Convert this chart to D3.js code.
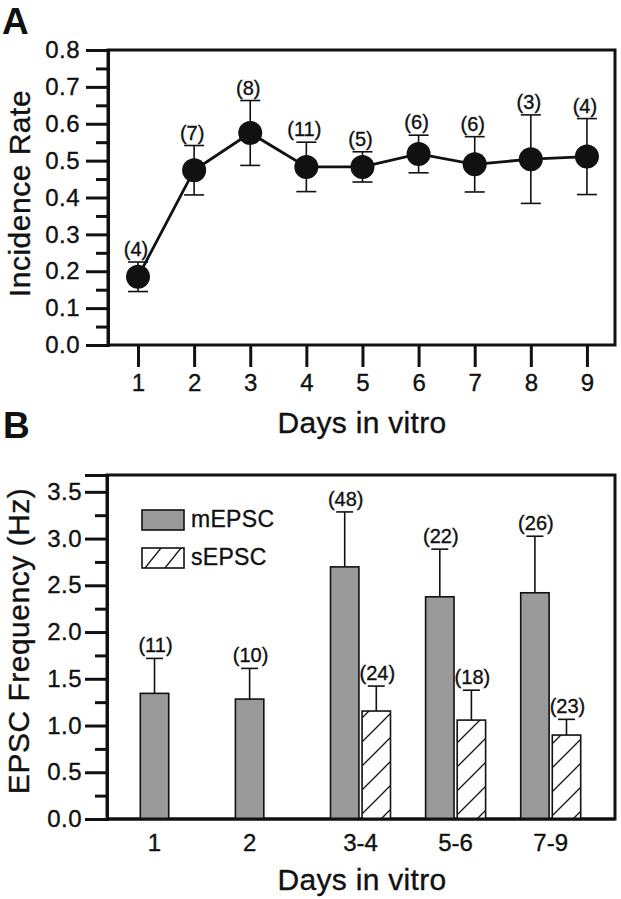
<!DOCTYPE html>
<html>
<head>
<meta charset="utf-8">
<script src="https://cdn.jsdelivr.net/npm/d3@7/dist/d3.min.js"></script>
<style>
  html, body { margin: 0; padding: 0; background: #fff; }
  svg { display: block; font-family: "Liberation Sans", Arial, Helvetica, sans-serif; }
</style>
</head>
<body>
<svg id="chart" width="621" height="899"></svg>
<script>
// ---------- Panel A data ----------
const daysA = [1, 2, 3, 4, 5, 6, 7, 8, 9];
const incidence = [0.185, 0.474, 0.575, 0.483, 0.483, 0.518, 0.490, 0.504, 0.511];
const incidenceErr = [0.040, 0.067, 0.088, 0.067, 0.041, 0.051, 0.075, 0.120, 0.103];
const nA = [4, 7, 8, 11, 5, 6, 6, 3, 4];
const yTicksA = [0.0, 0.1, 0.2, 0.3, 0.4, 0.5, 0.6, 0.7, 0.8];
const yMinorA = [0.05, 0.15, 0.25, 0.35, 0.45, 0.55, 0.65, 0.75];

// ---------- Panel B data ----------
const categoriesB = ["1", "2", "3-4", "5-6", "7-9"];
const seriesB = ["mEPSC", "sEPSC"];
const mEPSC = [1.344, 1.283, 2.697, 2.377, 2.420];
const mEPSCErr = [0.374, 0.328, 0.588, 0.510, 0.605];
const mN = [11, 10, 48, 22, 26];
const sEPSC = [null, null, 1.155, 1.058, 0.898];
const sEPSCErr = [null, null, 0.267, 0.320, 0.168];
const sN = [null, null, 24, 18, 23];
const yTicksB = [0.0, 0.5, 1.0, 1.5, 2.0, 2.5, 3.0, 3.5];
const yMinorB = [0.25, 0.75, 1.25, 1.75, 2.25, 2.75, 3.25];

const svg = d3.select("#chart");
const INK = "#111";
const FONT_TICK = 24, FONT_TITLE = 30, FONT_N = 20, FONT_LEG = 23;
const TXT_STROKE = 0.35;

function ink(sel) {
  return sel.attr("fill", INK).attr("stroke", INK).attr("stroke-width", TXT_STROKE);
}

// patterns
const defs = svg.append("defs");
const hatch = defs.append("pattern")
  .attr("id", "hatch").attr("patternUnits", "userSpaceOnUse")
  .attr("width", 24).attr("height", 24);
hatch.append("rect").attr("width", 24).attr("height", 24).attr("fill", "#fff");
hatch.append("path").attr("d", "M-6,6 L6,-6 M0,24 L24,0 M18,30 L30,18")
  .attr("stroke", INK).attr("stroke-width", 1.3);
const hatchL = defs.append("pattern")
  .attr("id", "hatchL").attr("patternUnits", "userSpaceOnUse")
  .attr("x", 143).attr("y", 548)
  .attr("width", 20).attr("height", 20);
hatchL.append("rect").attr("width", 20).attr("height", 20).attr("fill", "#fff");
hatchL.append("path").attr("d", "M2,20 L18,0")
  .attr("stroke", INK).attr("stroke-width", 1.3);

// =================== PANEL A ===================
const A = { left: 108, right: 615, top: 50, bottom: 345 };
const xA = d3.scaleLinear().domain([0.4655, 9.5]).range([A.left, A.right]);
const yA = d3.scaleLinear().domain([0, 0.8]).range([A.bottom, A.top]);
const gA = svg.append("g");

gA.append("rect").attr("x", A.left).attr("y", A.top)
  .attr("width", A.right - A.left).attr("height", A.bottom - A.top)
  .attr("fill", "none").attr("stroke", INK).attr("stroke-width", 3);

const yAxisA = d3.axisLeft(yA).tickValues(yTicksA).tickSize(22).tickPadding(6)
  .tickFormat(d3.format(".1f"));
const gyA = gA.append("g").attr("transform", `translate(${A.left},0)`).call(yAxisA);
gyA.select(".domain").attr("stroke", INK).attr("stroke-width", 3);
gyA.selectAll(".tick line").attr("stroke", INK).attr("stroke-width", 3);
ink(gyA.selectAll(".tick text").attr("font-size", FONT_TICK)
  .attr("font-family", "Liberation Sans, Arial, sans-serif").attr("letter-spacing", 0.5));
const yAxisAm = d3.axisLeft(yA).tickValues(yMinorA).tickSize(12).tickFormat("");
const gyAm = gA.append("g").attr("transform", `translate(${A.left},0)`).call(yAxisAm);
gyAm.select(".domain").remove();
gyAm.selectAll(".tick line").attr("stroke", INK).attr("stroke-width", 3);

const xAxisA = d3.axisBottom(xA).tickValues(daysA).tickSize(22).tickPadding(7)
  .tickFormat(d3.format("d"));
const gxA = gA.append("g").attr("transform", `translate(0,${A.bottom})`).call(xAxisA);
gxA.select(".domain").remove();
gxA.selectAll(".tick line").attr("stroke", INK).attr("stroke-width", 3);
ink(gxA.selectAll(".tick text").attr("font-size", FONT_TICK)
  .attr("font-family", "Liberation Sans, Arial, sans-serif"));

ink(gA.append("text").attr("x", 362).attr("y", 433).attr("text-anchor", "middle")
  .attr("font-size", FONT_TITLE).attr("letter-spacing", 0.3).text("Days in vitro"));
ink(gA.append("text").attr("transform", `translate(30,${(A.top + A.bottom) / 2 - 4}) rotate(-90)`)
  .attr("text-anchor", "middle").attr("font-size", FONT_TITLE)
  .attr("letter-spacing", 0.5).text("Incidence Rate"));
gA.append("text").attr("x", 2).attr("y", 34).attr("font-size", 37)
  .attr("font-weight", "bold").attr("fill", INK).text("A");

const ptsA = daysA.map((d, i) => ({ x: d, y: incidence[i], e: incidenceErr[i], n: nA[i] }));
const eb = gA.append("g").attr("stroke", INK).attr("stroke-width", 1.6).attr("fill", "none");
ptsA.forEach(p => {
  const cx = xA(p.x);
  eb.append("line").attr("x1", cx).attr("x2", cx).attr("y1", yA(p.y + p.e)).attr("y2", yA(p.y - p.e));
  eb.append("line").attr("x1", cx - 10).attr("x2", cx + 10).attr("y1", yA(p.y + p.e)).attr("y2", yA(p.y + p.e));
  eb.append("line").attr("x1", cx - 10).attr("x2", cx + 10).attr("y1", yA(p.y - p.e)).attr("y2", yA(p.y - p.e));
});
gA.append("path").datum(ptsA)
  .attr("d", d3.line().x(p => xA(p.x)).y(p => yA(p.y)))
  .attr("fill", "none").attr("stroke", INK).attr("stroke-width", 2.8);
gA.selectAll("circle.pt").data(ptsA).join("circle")
  .attr("cx", p => xA(p.x)).attr("cy", p => yA(p.y)).attr("r", 12).attr("fill", INK);
ink(gA.selectAll("text.n").data(ptsA).join("text")
  .attr("x", p => xA(p.x) - 2).attr("y", p => yA(p.y + p.e) - 6)
  .attr("text-anchor", "middle").attr("font-size", FONT_N)
  .text(p => `(${p.n})`));

// =================== PANEL B ===================
const B = { left: 107, right: 615, top: 475, bottom: 819 };
const yB = d3.scaleLinear().domain([0, 3.68]).range([B.bottom, B.top]);
const x0 = d3.scalePoint().domain(categoriesB).range([170.3, 550.7]);
const x1 = d3.scaleBand().domain(seriesB).range([-30, 30]).paddingInner(0.1);
const gB = svg.append("g");

gB.append("rect").attr("x", B.left).attr("y", B.top)
  .attr("width", B.right - B.left).attr("height", B.bottom - B.top)
  .attr("fill", "none").attr("stroke", INK).attr("stroke-width", 3);

const yAxisB = d3.axisLeft(yB).tickValues(yTicksB).tickSize(22).tickPadding(3)
  .tickFormat(d3.format(".1f"));
const gyB = gB.append("g").attr("transform", `translate(${B.left},0)`).call(yAxisB);
gyB.select(".domain").attr("stroke", INK).attr("stroke-width", 3);
gyB.selectAll(".tick line").attr("stroke", INK).attr("stroke-width", 3);
ink(gyB.selectAll(".tick text").attr("font-size", FONT_TICK)
  .attr("font-family", "Liberation Sans, Arial, sans-serif").attr("letter-spacing", 0.5));
const yAxisBm = d3.axisLeft(yB).tickValues(yMinorB).tickSize(12).tickFormat("");
const gyBm = gB.append("g").attr("transform", `translate(${B.left},0)`).call(yAxisBm);
gyBm.select(".domain").remove();
gyBm.selectAll(".tick line").attr("stroke", INK).attr("stroke-width", 3);

const barData = [];
categoriesB.forEach((c, i) => {
  barData.push({ cat: c, s: "mEPSC", v: mEPSC[i], e: mEPSCErr[i], n: mN[i] });
  if (sEPSC[i] != null) barData.push({ cat: c, s: "sEPSC", v: sEPSC[i], e: sEPSCErr[i], n: sN[i] });
});
const bw = x1.bandwidth();
const barX = d => x0(d.cat) + x1(d.s);

const ebB = gB.append("g").attr("stroke", INK).attr("stroke-width", 1.6);
barData.forEach(d => {
  const cx = barX(d) + bw / 2;
  ebB.append("line").attr("x1", cx).attr("x2", cx).attr("y1", yB(d.v)).attr("y2", yB(d.v + d.e));
  ebB.append("line").attr("x1", cx - 8.5).attr("x2", cx + 8.5).attr("y1", yB(d.v + d.e)).attr("y2", yB(d.v + d.e));
});
gB.selectAll("rect.bar").data(barData).join("rect")
  .attr("x", barX).attr("y", d => yB(d.v)).attr("width", bw).attr("height", d => yB(0) - yB(d.v))
  .attr("fill", d => d.s === "mEPSC" ? "#9a9a9a" : "url(#hatch)")
  .attr("stroke", INK).attr("stroke-width", 1.6);
ink(gB.selectAll("text.n").data(barData).join("text")
  .attr("x", d => barX(d) + bw / 2 + 1).attr("y", d => yB(d.v + d.e) - 6)
  .attr("text-anchor", "middle").attr("font-size", FONT_N)
  .text(d => `(${d.n})`));
gB.append("line").attr("x1", B.left).attr("x2", B.right).attr("y1", B.bottom).attr("y2", B.bottom)
  .attr("stroke", INK).attr("stroke-width", 3);

categoriesB.forEach((c, i) => {
  const present = barData.filter(d => d.cat === c);
  const cx = d3.mean(present, d => barX(d) + bw / 2);
  ink(gB.append("text").attr("x", cx).attr("y", 851).attr("text-anchor", "middle")
    .attr("font-size", FONT_TICK).text(c));
});

ink(gB.append("text").attr("x", 362).attr("y", 890).attr("text-anchor", "middle")
  .attr("font-size", FONT_TITLE).attr("letter-spacing", 0.3).text("Days in vitro"));
ink(gB.append("text").attr("transform", `translate(29,${(B.top + B.bottom) / 2 - 6}) rotate(-90)`)
  .attr("text-anchor", "middle").attr("font-size", FONT_TITLE)
  .attr("letter-spacing", 0.5).text("EPSC Frequency (Hz)"));
gB.append("text").attr("x", 3).attr("y", 438).attr("font-size", 37)
  .attr("font-weight", "bold").attr("fill", INK).text("B");

const legY = [510, 548];
const legG = gB.append("g");
seriesB.forEach((s, i) => {
  legG.append("rect").attr("x", 142).attr("y", legY[i]).attr("width", 42).attr("height", 20)
    .attr("fill", s === "mEPSC" ? "#9a9a9a" : "url(#hatchL)").attr("stroke", INK).attr("stroke-width", 1.6);
  ink(legG.append("text").attr("x", 191).attr("y", legY[i] + 17).attr("font-size", FONT_LEG)
    .attr("letter-spacing", 0.3).text(s));
});
</script>
</body>
</html>
